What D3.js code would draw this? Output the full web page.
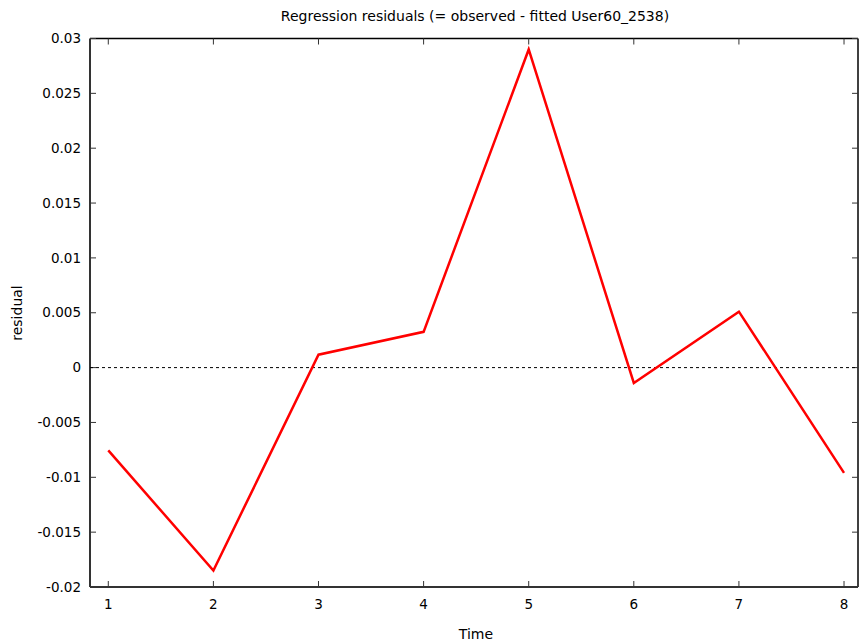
<!DOCTYPE html>
<html>
<head>
<meta charset="utf-8">
<script src="https://cdn.jsdelivr.net/npm/d3@7"></script>
<style>
  html, body { margin: 0; padding: 0; background: #fff; }
  svg { display: block; font-family: "DejaVu Sans", Verdana, sans-serif; }
</style>
</head>
<body>
<svg id="chart" width="859" height="644"></svg>
<script>
// Residuals from the regression, one per time period
const timePoints = [1, 2, 3, 4, 5, 6, 7, 8];
const residuals = [-0.00755, -0.0185, 0.00118, 0.00326, 0.0290, -0.0014, 0.0051, -0.0096];
const xTicks = [1, 2, 3, 4, 5, 6, 7, 8];
const yTicks = [-0.02, -0.015, -0.01, -0.005, 0, 0.005, 0.01, 0.015, 0.02, 0.025, 0.03];
const yTickLabels = ["-0.02", "-0.015", "-0.01", "-0.005", "0", "0.005", "0.01", "0.015", "0.02", "0.025", "0.03"];

const svg = d3.select("#chart");
const plotLeft = 90, plotRight = 858, plotTop = 38.5, plotBottom = 587;

const x = d3.scaleLinear().domain([0.826, 8.133]).range([plotLeft, plotRight]);
const y = d3.scaleLinear().domain([-0.02, 0.03]).range([plotBottom, plotTop]);

const tickLen = 6;

// Top and right frame lines
svg.append("line").attr("x1", plotLeft).attr("x2", plotRight).attr("y1", plotTop).attr("y2", plotTop)
  .attr("stroke", "#000").attr("stroke-width", 1.5);
svg.append("line").attr("x1", plotRight).attr("x2", plotRight).attr("y1", plotTop).attr("y2", plotBottom)
  .attr("stroke", "#000").attr("stroke-width", 1.5);

// Y ticks on both sides, pointing inward
const yt = svg.append("g");
yTicks.forEach((v, i) => {
  const py = y(v);
  yt.append("line").attr("x1", plotLeft).attr("x2", plotLeft + tickLen).attr("y1", py).attr("y2", py)
    .attr("stroke", "#333").attr("stroke-width", 1);
  yt.append("line").attr("x1", plotRight).attr("x2", plotRight - tickLen).attr("y1", py).attr("y2", py)
    .attr("stroke", "#333").attr("stroke-width", 1);
  yt.append("text").attr("x", plotLeft - 9).attr("y", py).attr("dy", "0.35em")
    .attr("text-anchor", "end").attr("font-size", 13.5).attr("fill", "#000")
    .text(yTickLabels[i]);
});

// X ticks on bottom and top, pointing inward
const xt = svg.append("g");
xTicks.forEach(v => {
  const px = x(v);
  xt.append("line").attr("x1", px).attr("x2", px).attr("y1", plotBottom).attr("y2", plotBottom - tickLen)
    .attr("stroke", "#333").attr("stroke-width", 1);
  xt.append("line").attr("x1", px).attr("x2", px).attr("y1", plotTop).attr("y2", plotTop + tickLen)
    .attr("stroke", "#333").attr("stroke-width", 1);
  xt.append("text").attr("x", px).attr("y", plotBottom + 22)
    .attr("text-anchor", "middle").attr("font-size", 13.5).attr("fill", "#000")
    .text(v);
});

// Left and bottom axis lines
svg.append("line").attr("x1", plotLeft).attr("x2", plotLeft).attr("y1", plotTop).attr("y2", plotBottom)
  .attr("stroke", "#333").attr("stroke-width", 2);
svg.append("line").attr("x1", plotLeft).attr("x2", plotRight).attr("y1", plotBottom).attr("y2", plotBottom)
  .attr("stroke", "#333").attr("stroke-width", 2);

// Zero reference line
svg.append("line").attr("x1", plotLeft).attr("x2", plotRight).attr("y1", y(0)).attr("y2", y(0))
  .attr("stroke", "#000").attr("stroke-width", 1).attr("stroke-dasharray", "3,3");

// Residual series
const line = d3.line().x((d, i) => x(timePoints[i])).y(d => y(d));
svg.append("path").datum(residuals)
  .attr("d", line).attr("fill", "none")
  .attr("stroke", "#ff0000").attr("stroke-width", 2.5).attr("stroke-linejoin", "miter");

// Titles
svg.append("text").attr("x", 475).attr("y", 21).attr("text-anchor", "middle")
  .attr("font-size", 14).attr("fill", "#000")
  .text("Regression residuals (= observed - fitted User60_2538)");
svg.append("text").attr("x", 476).attr("y", 639).attr("text-anchor", "middle")
  .attr("font-size", 14).attr("fill", "#000").text("Time");
svg.append("text").attr("transform", "translate(22,313) rotate(-90)")
  .attr("text-anchor", "middle").attr("font-size", 14).attr("fill", "#000").text("residual");
</script>
</body>
</html>
